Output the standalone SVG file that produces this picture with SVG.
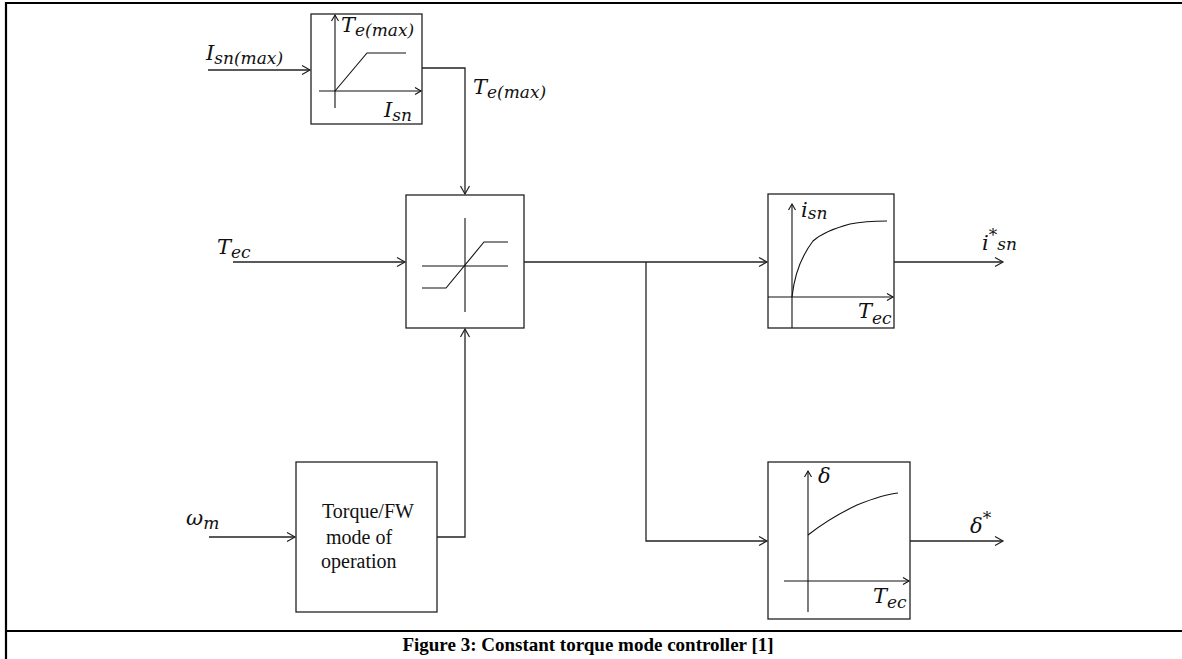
<svg xmlns="http://www.w3.org/2000/svg" width="1182" height="659" viewBox="0 0 1182 659">
<style>
.ln{fill:none;stroke:#222;stroke-width:1.3}
.bx{fill:#fff;stroke:#222;stroke-width:1.3}
.ax{fill:none;stroke:#111;stroke-width:1.1}
.cv{fill:none;stroke:#111;stroke-width:1.1}
.m{font-family:"DejaVu Serif","Liberation Serif",serif;font-style:italic;font-size:21px;fill:#111}
.s{font-size:17px}
.t{font-family:"Liberation Serif","Times New Roman",serif;font-size:20px;fill:#111}
.cap{font-family:"Liberation Serif","Times New Roman",serif;font-weight:bold;font-size:19px;fill:#000}
.fr{stroke:#000;stroke-width:2.2;fill:none}
</style>
<defs>
<marker id="ar" markerUnits="userSpaceOnUse" markerWidth="12" markerHeight="12" viewBox="-10 -6 12 12" refX="0" refY="0" orient="auto">
<path d="M-8,-4.5 L0,0 L-8,4.5" fill="none" stroke="#222" stroke-width="1.2"/>
</marker>
<marker id="sa" markerUnits="userSpaceOnUse" markerWidth="10" markerHeight="10" viewBox="-8 -5 10 10" refX="0" refY="0" orient="auto">
<path d="M-6,-3.5 L0,0 L-6,3.5" fill="none" stroke="#111" stroke-width="1.1"/>
</marker>
</defs>
<rect width="1182" height="659" fill="#fff"/>
<g id="frame">
<path class="fr" d="M6,659 V3 H1182"/>
<path class="fr" d="M6,631 H1182"/>
</g>
<g id="connectors">
<path class="ln" d="M208,70 H310" marker-end="url(#ar)"/>
<path class="ln" d="M422,68 H465 V194" marker-end="url(#ar)"/>
<path class="ln" d="M233,262 H405" marker-end="url(#ar)"/>
<path class="ln" d="M209,537 H295" marker-end="url(#ar)"/>
<path class="ln" d="M437,537 H465 V329" marker-end="url(#ar)"/>
<path class="ln" d="M524,262 H767" marker-end="url(#ar)"/>
<path class="ln" d="M646,262 V541 H767" marker-end="url(#ar)"/>
<path class="ln" d="M894,262 H1003" marker-end="url(#ar)"/>
<path class="ln" d="M910,541 H1003" marker-end="url(#ar)"/>
</g>
<g id="in_isn_max">
<text class="m" x="206" y="60">I<tspan class="s" dy="4">sn(max)</tspan></text>
</g>
<g id="in_tec">
<text class="m" x="217" y="254">T<tspan class="s" dy="4">ec</tspan></text>
</g>
<g id="in_wm">
<text class="m" x="186" y="525">ω<tspan class="s" dy="4">m</tspan></text>
</g>
<g id="lbl_temax">
<text class="m" x="473" y="94">T<tspan class="s" dy="4">e(max)</tspan></text>
</g>
<g id="box_limit">
<rect class="bx" x="311" y="14" width="111" height="110"/>
<path class="ax" d="M335,108 V15" marker-end="url(#sa)"/>
<path class="ax" d="M319,91 H421" marker-end="url(#sa)"/>
<path class="cv" d="M335,91 L367,53 L406,53"/>
<text class="m" x="341" y="32">T<tspan class="s" dy="4">e(max)</tspan></text>
<text class="m" x="384" y="117">I<tspan class="s" dy="4">sn</tspan></text>
</g>
<g id="box_sat">
<rect class="bx" x="406" y="195" width="118" height="133"/>
<path class="ax" d="M465,218 V312"/>
<path class="ax" d="M422,266 H508"/>
<path class="cv" d="M422,288 L446,288 L484,242 L508,242"/>
</g>
<g id="box_mode">
<rect class="bx" x="296" y="462" width="141" height="150"/>
<text class="t" x="322" y="518">Torque/FW</text>
<text class="t" x="326" y="544">mode of</text>
<text class="t" x="321" y="568">operation</text>
</g>
<g id="box_isn">
<rect class="bx" x="768" y="194" width="126" height="134"/>
<path class="ax" d="M792,328 V204" marker-end="url(#sa)"/>
<path class="ax" d="M768,297 H893" marker-end="url(#sa)"/>
<path class="cv" d="M792,297 C794,278 800,258 813,241 C822,233 835,228 850,224 C865,221 875,221 887,221"/>
<text class="m" x="801" y="217">i<tspan class="s" dy="2">sn</tspan></text>
<text class="m" x="858" y="318">T<tspan class="s" dy="6">ec</tspan></text>
</g>
<g id="out_isn">
<text class="m" x="982" y="250">i<tspan class="s" dy="-9">*</tspan><tspan class="s" dy="9">sn</tspan></text>
</g>
<g id="box_delta">
<rect class="bx" x="768" y="462" width="142" height="157"/>
<path class="ax" d="M808,612 V471" marker-end="url(#sa)"/>
<path class="ax" d="M784,581 H909" marker-end="url(#sa)"/>
<path class="cv" d="M808,535 C822,524 838,514 857,505 C872,499 885,494 898,493"/>
<text class="m" x="818" y="483">δ</text>
<text class="m" x="873" y="603">T<tspan class="s" dy="5">ec</tspan></text>
</g>
<g id="out_delta">
<text class="m" x="970" y="533">δ<tspan class="s" dy="-9">*</tspan></text>
</g>
<g id="caption">
<text class="cap" x="588" y="651" text-anchor="middle">Figure 3: Constant torque mode controller [1]</text>
</g>
</svg>
